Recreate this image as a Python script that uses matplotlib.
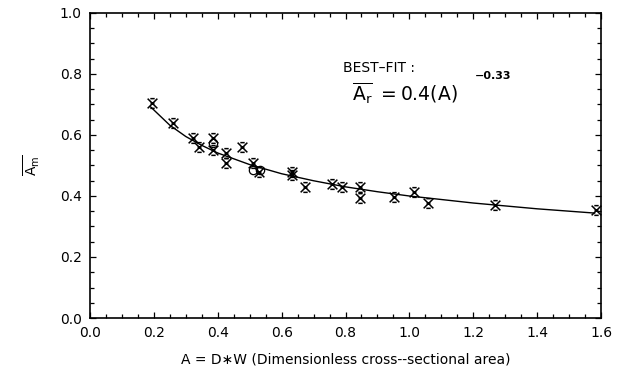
import matplotlib
matplotlib.use("Agg")
import matplotlib.pyplot as plt
from matplotlib.path import Path
from matplotlib.ticker import MultipleLocator

# measured points (X-type markers)
x_pts = [0.193, 0.261, 0.323, 0.341, 0.384, 0.384, 0.425, 0.425, 0.477, 0.511,
         0.528, 0.631, 0.631, 0.673, 0.759, 0.790, 0.845, 0.845, 0.953, 1.014,
         1.059, 1.268, 1.584]
y_pts = [0.704, 0.638, 0.589, 0.560, 0.589, 0.551, 0.540, 0.509, 0.560, 0.509,
         0.480, 0.480, 0.470, 0.430, 0.438, 0.430, 0.430, 0.392, 0.396, 0.412,
         0.378, 0.370, 0.353]

# circle markers
x_circ = [0.384, 0.511, 0.532]
y_circ = [0.573, 0.485, 0.485]

# best-fit curve
fit_x = [0.19, 0.25, 0.30, 0.35, 0.40, 0.50, 0.60, 0.70, 0.80, 0.90, 1.00, 1.20, 1.40, 1.58]
fit_y = [0.692, 0.632, 0.595, 0.566, 0.541, 0.503, 0.473, 0.450, 0.430, 0.414, 0.400, 0.377, 0.358, 0.344]

x_ticks = [0.0, 0.2, 0.4, 0.6, 0.8, 1.0, 1.2, 1.4, 1.6]
y_ticks = [0.0, 0.2, 0.4, 0.6, 0.8, 1.0]

# cross marker with small caps, like the plotter symbol
verts = [(-1, 1), (1, -1), (-1, -1), (1, 1),
         (-0.45, 1), (0.45, 1), (-0.45, -1), (0.45, -1),
         (-0.4, 0), (0.4, 0)]
codes = [Path.MOVETO, Path.LINETO, Path.MOVETO, Path.LINETO,
         Path.MOVETO, Path.LINETO, Path.MOVETO, Path.LINETO,
         Path.MOVETO, Path.LINETO]
xmark = Path(verts, codes)

fig = plt.figure(figsize=(6.44, 3.85), dpi=100)
ax = fig.add_axes([90 / 644, 67 / 385, 511 / 644, 305 / 385])

ax.plot(fit_x, fit_y, color="black", lw=1.0)
ax.plot(x_pts, y_pts, linestyle="none", marker=xmark, ms=7, mew=1.1,
        mec="black", mfc="none")
ax.plot(x_circ, y_circ, linestyle="none", marker="o", ms=6, mew=0.9,
        mec="black", mfc="none")

ax.set_xlim(0, 1.6)
ax.set_ylim(0, 1.0)
ax.set_xticks(x_ticks)
ax.set_yticks(y_ticks)
ax.set_xticklabels([f"{v:.1f}" for v in x_ticks])
ax.set_yticklabels([f"{v:.1f}" for v in y_ticks])
ax.xaxis.set_minor_locator(MultipleLocator(0.05))
ax.yaxis.set_minor_locator(MultipleLocator(0.05))
ax.tick_params(which="both", direction="in", top=True, right=True,
               width=0.9, labelsize=10, pad=6)
ax.tick_params(which="major", length=4)
ax.tick_params(which="minor", length=3)
for s in ax.spines.values():
    s.set_linewidth(1.2)

ax.set_xlabel("A = D\u2217W (Dimensionless cross--sectional area)",
              fontsize=10, labelpad=9)
ax.set_ylabel(r"$\overline{\mathrm{A_m}}$", fontsize=10, labelpad=13)

ax.text(0.495, 0.82, "BEST\u2013FIT :", transform=ax.transAxes,
        fontsize=10, va="center")
ax.text(0.513, 0.735, r"$\overline{\mathrm{A_r}}\ = \mathrm{0.4(A)}$",
        transform=ax.transAxes, fontsize=13.5, va="center")
ax.text(0.753, 0.795, "\u22120.33", transform=ax.transAxes,
        fontsize=8, fontweight="bold", va="center")

fig.savefig("out.png", dpi=100)
